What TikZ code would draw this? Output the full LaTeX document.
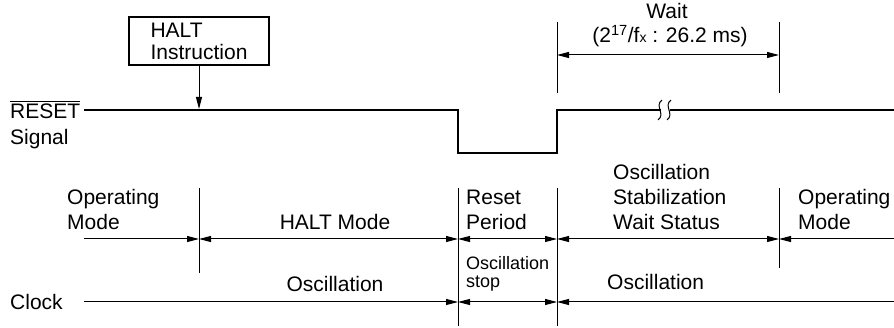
\documentclass[tikz,border=0pt]{standalone}
\usepackage{fontspec}
\setmainfont{Liberation Sans}
\usetikzlibrary{arrows.meta}
\begin{document}
\begin{tikzpicture}[x=1pt,y=-1pt,
  txt/.style={font=\fontsize{21}{25}\selectfont, inner sep=0pt},
  smalltxt/.style={font=\fontsize{18}{18}\selectfont, inner sep=0pt},
  tick/.style={line width=1pt},
  sig/.style={line width=2.7pt, line join=miter},
  tip/.tip={Triangle[length=12pt,width=6pt]},
  arr/.style={line width=1pt, -tip},
  darr/.style={line width=1pt, tip-tip},
  box/.style={draw, line width=2.7pt, minimum width=140pt, minimum height=48pt,
    align=left, font=\fontsize{21}{22}\selectfont, inner sep=0pt}
]
\useasboundingbox (0,0) rectangle (894,328);

% ---- labels on the left
\node[txt, anchor=base west] (reset) at (10,119) {RESET};
\draw[line width=1pt] ([yshift=3pt]reset.north west) -- ([yshift=3pt]reset.north east);
\node[txt, anchor=base west] (signal) at (10,145) {Signal};
\node[txt, anchor=base west] (clock) at (10,310) {Clock};

% ---- HALT instruction box
\node[box] (haltbox) at (199,41) {HALT\\Instruction};

% ---- coordinates
\coordinate (s0) at (84,110);
\coordinate (s1) at (458,110);
\coordinate (s2) at (458,153);
\coordinate (s3) at (557,153);
\coordinate (s4) at (557,110);
\coordinate (s5) at (661,110);
\coordinate (s6) at (670,110);
\coordinate (s7) at (894,110);
\coordinate (haltpt) at (199,109);

% ---- RESET signal
\draw[sig] (s0) -- (s1) -- (s2) -- (s3) -- (s4) -- (s5);
\draw[sig] (s6) -- (s7);
\draw[line width=1pt] (662,100) .. controls (654,106) and (666,114) .. (658,120);
\draw[line width=1pt] (671,100) .. controls (663,106) and (675,114) .. (667,120);

% ---- HALT arrow
\draw[arr] (haltbox.south) -- (haltpt);

% ---- vertical ticks
\coordinate (t1a) at (199,188); \coordinate (t1b) at (199,273);
\coordinate (t2a) at (458,188); \coordinate (t2b) at (458,326);
\coordinate (t3a) at (557,188); \coordinate (t3b) at (557,326);
\coordinate (t4a) at (779,188); \coordinate (t4b) at (779,268);
\coordinate (w1a) at (557,22);  \coordinate (w1b) at (557,93);
\coordinate (w2a) at (779,22);  \coordinate (w2b) at (779,93);
\draw[tick] (t1a) -- (t1b);
\draw[tick] (t2a) -- (t2b);
\draw[tick] (t3a) -- (t3b);
\draw[tick] (t4a) -- (t4b);
\draw[tick] (w1a) -- (w1b);
\draw[tick] (w2a) -- (w2b);

% ---- wait arrow
\coordinate (wl) at (557,55); \coordinate (wr) at (779,55);
\draw[darr] (wl) -- (wr);
\node[txt, anchor=base] (wait) at (667,19) {Wait};
\node[txt, anchor=base] (waitval) at (670,43)
  {(2\textsuperscript{17}/f{\fontsize{14}{14}\selectfont x} : 26.2 ms)};

% ---- mode arrows
\coordinate (m0) at (84,239);
\coordinate (m1) at (199,239);
\coordinate (m2) at (458,239);
\coordinate (m3) at (557,239);
\coordinate (m4) at (779,239);
\coordinate (m5) at (894,239);
\draw[arr] (m0) -- (m1);
\draw[darr] (m1) -- (m2);
\draw[darr] (m2) -- (m3);
\draw[darr] (m3) -- (m4);
\draw[arr] (m5) -- (m4);

% ---- clock arrows
\coordinate (c0) at (84,302);
\coordinate (c1) at (458,302);
\coordinate (c2) at (557,302);
\coordinate (c3) at (894,302);
\draw[arr] (c0) -- (c1);
\draw[darr] (c1) -- (c2);
\draw[arr] (c3) -- (c2);

% ---- mode texts
\node[txt, anchor=base west] (op1a) at (67,205) {Operating};
\node[txt, anchor=base west] (op1b) at (67,230) {Mode};
\node[txt, anchor=base] (haltmode) at (335,230) {HALT Mode};
\node[txt, anchor=base west] (rp1) at (466,205) {Reset};
\node[txt, anchor=base west] (rp2) at (466,230) {Period};
\node[txt, anchor=base west] (os1) at (613,180) {Oscillation};
\node[txt, anchor=base west] (os2) at (613,205) {Stabilization};
\node[txt, anchor=base west] (os3) at (613,230) {Wait Status};
\node[txt, anchor=base west] (op2a) at (798,205) {Operating};
\node[txt, anchor=base west] (op2b) at (798,230) {Mode};

% ---- clock texts
\node[txt, anchor=base] (osc1) at (335,292) {Oscillation};
\node[smalltxt, anchor=base west] (stop1) at (466,270) {Oscillation};
\node[smalltxt, anchor=base west] (stop2) at (466,288) {stop};
\node[txt, anchor=base west] (osc2) at (607,290) {Oscillation};
\end{tikzpicture}
\end{document}
